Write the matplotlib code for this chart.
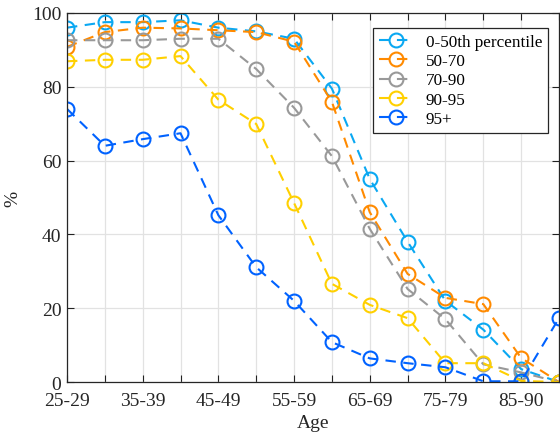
import matplotlib
matplotlib.use("Agg")
import matplotlib.pyplot as plt
import numpy as np

plt.rcParams['font.family'] = ['Liberation Serif', 'DejaVu Serif']
plt.rcParams['mathtext.fontset'] = 'stix'

age_groups = ["25-29", "30-34", "35-39", "40-44", "45-49", "50-54", "55-59",
              "60-64", "65-69", "70-74", "75-79", "80-84", "85-90", "90+"]

p0_50 = [96.0, 97.5, 97.5, 98.0, 96.0, 95.0, 93.0, 79.5, 55.0, 38.0, 22.0, 14.2, 3.5, 0.0]
p50_70 = [90.8, 94.8, 96.0, 95.8, 95.3, 94.8, 92.2, 75.9, 46.0, 29.3, 22.8, 21.1, 6.5, 0.0]
p70_90 = [92.6, 92.6, 92.6, 93.0, 93.0, 84.8, 74.3, 61.2, 41.5, 25.2, 17.0, 4.8, 2.6, 0.0]
p90_95 = [86.9, 87.3, 87.3, 88.3, 76.5, 69.9, 48.5, 26.6, 20.9, 17.3, 5.1, 5.1, 0.3, 0.0]
p95_plus = [74.0, 64.0, 65.8, 67.4, 45.2, 31.1, 22.0, 10.8, 6.4, 5.1, 4.0, 0.2, 0.2, 17.3]

series = [
    ("0-50th percentile", p0_50, "#0AA8F2"),
    ("50-70", p50_70, "#FF8A00"),
    ("70-90", p70_90, "#999999"),
    ("90-95", p90_95, "#FFD000"),
    ("95+", p95_plus, "#0062FF"),
]

fig = plt.figure(figsize=(5.6, 4.35), dpi=100)
ax = fig.add_axes([0.1196, 0.1195, 0.8786, 0.8485])

x = np.arange(len(age_groups))
for name, vals, col in series:
    ax.plot(x, vals, linestyle=(0, (5.0, 3.6)), color=col, linewidth=1.5,
            marker='o', markersize=10, markerfacecolor='none',
            markeredgecolor=col, markeredgewidth=1.5, label=name, clip_on=True)

ax.set_xlim(0, len(age_groups) - 1)
ax.set_ylim(0, 100)
ax.set_xticks(x[::2])
ax.set_xticklabels(age_groups[::2])
ax.set_xticks(x[1::2], minor=True)
ax.set_yticks([0, 20, 40, 60, 80, 100])

ax.grid(True, which='both', color='#E2E2E2', linewidth=0.9)
ax.set_axisbelow(True)
ax.tick_params(which='both', direction='in', top=True, right=True,
               length=5, width=0.8, labelsize=14, colors='#222222',
               labelcolor='#262626')
ax.tick_params(axis='x', which='major', pad=7)
ax.tick_params(axis='y', which='major', pad=4)
for s in ax.spines.values():
    s.set_linewidth(0.9)
    s.set_color('#262626')

ax.set_xlabel("Age", fontsize=14, color='#262626', labelpad=4)
ax.set_ylabel("%", fontsize=14, color='#262626')
ax.yaxis.set_label_coords(-0.092, 0.5)

leg = ax.legend(loc='upper right', bbox_to_anchor=(0.978, 0.96), fontsize=12.3,
                fancybox=False, framealpha=1, edgecolor='#262626',
                handlelength=2.0, handletextpad=0.75, borderpad=0.35,
                labelspacing=0.2, borderaxespad=0.0)
leg.get_frame().set_linewidth(0.9)

fig.savefig("out.png", dpi=100)
